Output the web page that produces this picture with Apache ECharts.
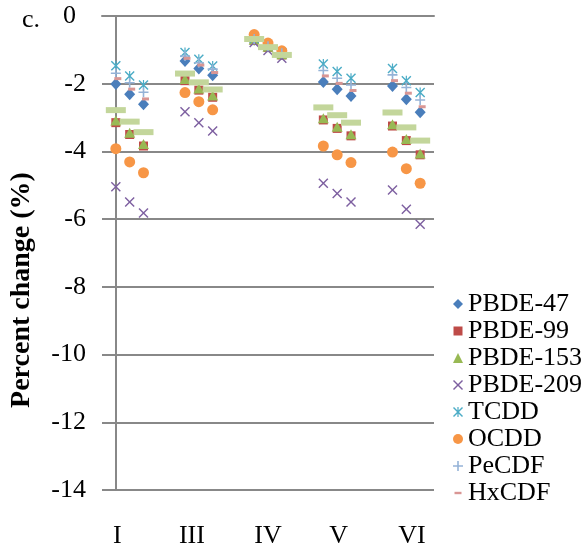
<!DOCTYPE html>
<html><head><meta charset="utf-8">
<script src="https://cdn.jsdelivr.net/npm/echarts@6/dist/echarts.min.js"></script>
<style>html,body{margin:0;padding:0;background:#fff}#c{width:587px;height:552px}</style>
</head><body><div id="c"></div>
<script>
// ---- data ----
const groups = ['I', 'III', 'IV', 'V', 'VI'];
const yTicks = [0, -2, -4, -6, -8, -10, -12, -14];
const pbde47  = [-2.01,-2.31,-2.61, -1.33,-1.55,-1.75, -0.70,-0.90,-1.12, -1.95,-2.16,-2.36, -2.07,-2.46,-2.84];
const pbde99  = [-3.15,-3.50,-3.84, -1.91,-2.19,-2.40, -0.72,-0.93,-1.15, -3.07,-3.32,-3.54, -3.25,-3.68,-4.10];
const pbde153 = [-3.09,-3.45,-3.78, -1.86,-2.14,-2.35, -0.70,-0.91,-1.13, -3.02,-3.27,-3.49, -3.20,-3.63,-4.06];
const pbde209 = [-5.04,-5.49,-5.82, -2.83,-3.15,-3.40, -0.78,-1.02,-1.25, -4.94,-5.24,-5.49, -5.14,-5.71,-6.15];
const tcdd    = [-1.47,-1.77,-2.04, -1.08,-1.28,-1.48, -0.66,-0.87,-1.08, -1.42,-1.64,-1.84, -1.55,-1.91,-2.26];
const ocdd    = [-3.92,-4.31,-4.63, -2.26,-2.53,-2.77, -0.55,-0.80,-1.03, -3.84,-4.10,-4.33, -4.02,-4.51,-4.94];
const pecdf   = [-1.69,-1.97,-2.25, -1.18,-1.38,-1.57, -0.68,-0.89,-1.10, -1.61,-1.84,-2.04, -1.74,-2.11,-2.48];
const hxcdf   = [-1.85,-2.16,-2.45, -1.25,-1.45,-1.67, -0.69,-0.90,-1.12, -1.77,-1.99,-2.20, -1.91,-2.28,-2.68];
const extra   = [-2.78,-3.12,-3.43, -1.70,-1.96,-2.17, -0.68,-0.92,-1.15, -2.70,-2.93,-3.15, -2.85,-3.29,-3.68];

// ---- layout helpers ----
const perGroup = 3;
function xy(arr) {
  return arr.map((v, i) => [Math.floor(i / perGroup) * 50 + (i % perGroup) * 10, v]);
}
const labelAt = {1: 0, 55: 1, 110: 2, 161: 3, 214: 4};

const X_PATH = 'path://M1,0 L5,4 L9,0 L10,1 L6,5 L10,9 L9,10 L5,6 L1,10 L0,9 L4,5 L0,1 Z';
const STAR_PATH = 'path://M1,0 L5,4 L9,0 L10,1 L6,5 L10,9 L9,10 L5,6 L1,10 L0,9 L4,5 L0,1 Z M4.4,0 L5.6,0 L5.6,10 L4.4,10 Z';
const PLUS_PATH = 'path://M4.2,0 H5.8 V4.2 H10 V5.8 H5.8 V10 H4.2 V5.8 H0 V4.2 H4.2 Z';
const DASH_ICON = 'path://M0,0 M10,10 M1.5,3.8 H8.5 V6.2 H1.5 Z';
const SQ_ICON = 'path://M0,0 M10,10 M0.5,0.5 H9.5 V9.5 H0.5 Z';

const FONT = "'Liberation Serif', 'Times New Roman', serif";

function s(name, arr, color, symbol, size, extraOpts) {
  return Object.assign({
    name, type: 'scatter', data: xy(arr), symbol, symbolSize: size,
    itemStyle: { color, opacity: 1 }, emphasis: { disabled: true }
  }, extraOpts || {});
}

const series = [
  s('PBDE-47', pbde47, '#4A7EBB', 'diamond', [11, 12]),
  s('PBDE-99', pbde99, '#BE4B48', 'rect', 9),
  s('PBDE-153', pbde153, '#98B954', 'triangle', [11, 10]),
  s('PBDE-209', pbde209, '#7D5FA0', X_PATH, 10),
  s('TCDD', tcdd, '#4BACC6', STAR_PATH, 10),
  s('OCDD', ocdd, '#F79646', 'circle', 11),
  s('PeCDF', pecdf, '#95B3D7', PLUS_PATH, 10),
  s('HxCDF', hxcdf, '#D99694', 'rect', [7, 3], { symbolOffset: [2, 0] }),
  s('extra', extra, '#C3D69B', 'rect', [20, 6])
];

const chart = echarts.init(document.getElementById('c'), null, { renderer: 'canvas' });
chart.setOption({
  animation: false,
  backgroundColor: '#fff',
  textStyle: { fontFamily: FONT },
  title: { text: 'c.', left: 17, top: 2, textStyle: { fontFamily: FONT, fontSize: 26, fontWeight: 'normal', color: '#000' } },
  grid: { left: 98, right: 153, top: 16, bottom: 62, containLabel: false },
  legend: {
    data: [
      {name: 'PBDE-47'}, {name: 'PBDE-99', icon: SQ_ICON}, {name: 'PBDE-153'}, {name: 'PBDE-209'},
      {name: 'TCDD'}, {name: 'OCDD'}, {name: 'PeCDF'}, {name: 'HxCDF', icon: DASH_ICON}
    ],
    orient: 'vertical', left: 448, top: 286,
    itemWidth: 10, itemHeight: 10, itemGap: 1, selectedMode: false,
    textStyle: { fontFamily: FONT, fontSize: 26, color: '#000', lineHeight: 26 }
  },
  xAxis: {
    type: 'value', min: -10, max: 230, interval: 1,
    axisLine: { show: true, lineStyle: { color: '#888', width: 2 } },
    axisTick: { show: false }, splitLine: { show: false },
    axisLabel: {
      margin: 33, fontFamily: FONT, fontSize: 26, color: '#000',
      formatter: v => { const k = Math.round(v); return labelAt[k] !== undefined ? groups[labelAt[k]] : ''; }
    }
  },
  yAxis: {
    type: 'value', min: -14, max: 0, interval: 2,
    name: 'Percent change (%)', nameLocation: 'middle', nameGap: 66, nameRotate: 90,
    nameTextStyle: { fontFamily: FONT, fontSize: 28, fontWeight: 'bold', color: '#000', padding: [0, 74, 0, 0] },
    axisLine: { show: true, lineStyle: { color: '#888', width: 2 } },
    axisTick: { show: true, length: 7, lineStyle: { color: '#888', width: 2 } },
    splitLine: { show: true, lineStyle: { color: '#888', width: 2 } },
    axisLabel: {
      margin: 16, fontFamily: FONT, fontSize: 26, color: '#000', customValues: yTicks,
      formatter: v => v === 0 ? '{z|0}' : String(v),
      rich: { z: { fontFamily: FONT, fontSize: 26, color: '#000', padding: [0, 10, 0, 0] } }
    }
  },
  series
});
</script></body></html>
